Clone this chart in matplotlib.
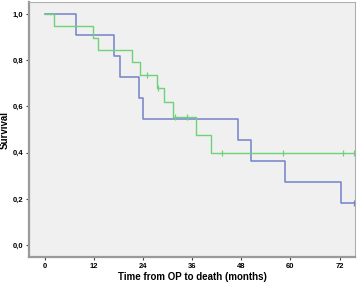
import matplotlib
matplotlib.use("Agg")
import matplotlib.pyplot as plt

# Kaplan-Meier step curves (time in months, survival)
blue_t = [0, 7.6, 16.9, 18.3, 23.0, 23.9, 47.1, 50.4, 58.7, 72.4, 75.8]
blue_s = [1.0, 0.909, 0.818, 0.727, 0.636, 0.545, 0.455, 0.364, 0.273, 0.182, 0.182]
blue_cens_t = [75.6]
blue_cens_s = [0.182]

green_t = [0, 2.3, 11.8, 13.0, 21.2, 23.2, 27.3, 29.1, 31.2, 36.9, 40.6, 75.8]
green_s = [1.0, 0.949, 0.896, 0.843, 0.791, 0.737, 0.681, 0.618, 0.555, 0.478, 0.397, 0.397]
green_cens_t = [24.9, 27.6, 31.9, 34.7, 43.2, 58.2, 72.9, 75.6]
green_cens_s = [0.737, 0.681, 0.555, 0.555, 0.397, 0.397, 0.397, 0.397]

xticks = [0, 12, 24, 36, 48, 60, 72]
yticks = [0.0, 0.2, 0.4, 0.6, 0.8, 1.0]

plt.rcParams["font.family"] = ["Liberation Sans", "DejaVu Sans"]
plt.rcParams["font.weight"] = "bold"

fig = plt.figure(figsize=(3.58, 2.85), dpi=100)
ax = fig.add_axes([0.081, 0.098, 0.911, 0.895])
ax.set_facecolor("#f0f0f0")

blue = "#7382c9"
green = "#6fd27a"
ax.step(blue_t, blue_s, where="post", color=blue, lw=1.1)
ax.step(green_t, green_s, where="post", color=green, lw=1.0)
ax.plot(green_cens_t, green_cens_s, ls="none", marker="|", ms=4, mew=0.9, color=green)
ax.plot(blue_cens_t, blue_cens_s, ls="none", marker="|", ms=4, mew=0.9, color=blue)

ax.set_xlim(-3.9, 75.8)
ax.set_ylim(-0.052, 1.052)
ax.set_xticks(xticks)
ax.set_xticklabels([str(v) for v in xticks])
ax.set_yticks(yticks)
ax.set_yticklabels([f"{v:.1f}".replace(".", ",") for v in yticks])
ax.tick_params(labelsize=5.5, length=2.5, width=0.8, color="#444444", pad=1.5)

for side in ["left", "bottom"]:
    ax.spines[side].set_color("#9a9a9a")
    ax.spines[side].set_linewidth(1.6)
for side in ["top", "right"]:
    ax.spines[side].set_color("#b0b0b0")
    ax.spines[side].set_linewidth(0.8)

ax.set_xlabel("Time from OP to death (months)", fontsize=7, fontweight="bold", labelpad=2)
ax.set_ylabel("Survival", fontsize=7, fontweight="bold", labelpad=2)

fig.savefig("out.png", dpi=100)
